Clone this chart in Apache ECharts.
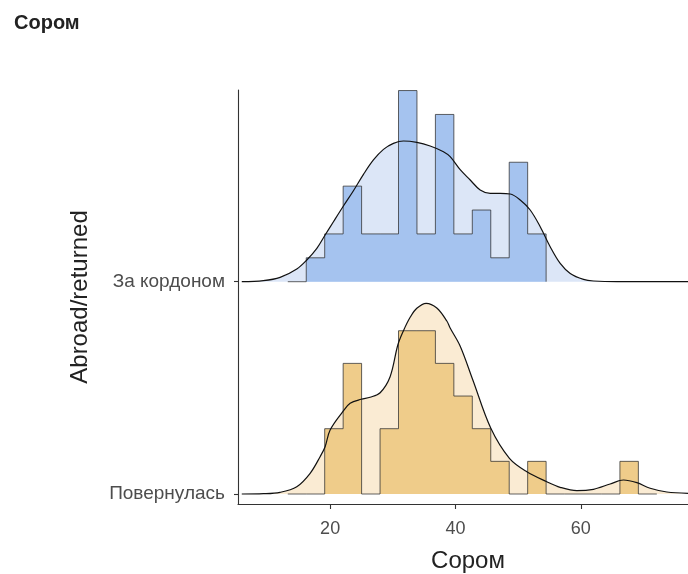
<!DOCTYPE html>
<html>
<head>
<meta charset="utf-8">
<script src="https://cdn.jsdelivr.net/npm/echarts@6/dist/echarts.min.js"></script>
<style>
  html, body { margin: 0; padding: 0; background: #fff; }
  #chart { width: 688px; height: 574px; }
</style>
</head>
<body>
<div id="chart"></div>
<script>
// ---- data ----
const chartTitle = 'Сором';
const xAxisTitle = 'Сором';
const yAxisTitle = 'Abroad/returned';
const groupNames = ['Повернулась', 'За кордоном'];
const xTicks = [20, 40, 60];

// histogram bins (shared)
const binStart = 13.245;
const binWidth = 2.944;
const returnedCounts = [0, 0, 2, 4, 0, 2, 5, 5, 4, 3, 2, 1, 0, 1, 0, 0, 0, 0, 1, 0];
const abroadCounts = [0, 1, 2, 4, 2, 2, 8, 2, 7, 2, 3, 1, 5, 2];

// density curves (x, density)
const abroadDensX = [5.9, 9.35, 12.02, 14.68, 16.28, 17.88, 19.20, 20.53, 22.12, 23.72, 25.32, 26.91, 28.51, 30.10, 31.70, 33.84, 35.96, 38.08, 39.15, 40.75, 42.35, 43.94, 45.54, 47.13, 48.73, 50.33, 51.92, 53.52, 55.11, 56.71, 58.31, 60.43, 62.03, 65.76, 77.1];
const abroadDens = [0, 0.00035, 0.00149, 0.00440, 0.00752, 0.01155, 0.01619, 0.02080, 0.02625, 0.03155, 0.03721, 0.04220, 0.04587, 0.04795, 0.04879, 0.04830, 0.04705, 0.04508, 0.04334, 0.03883, 0.03526, 0.03180, 0.03062, 0.03062, 0.03041, 0.02833, 0.02486, 0.01907, 0.01214, 0.00635, 0.00288, 0.00080, 0.00024, 0, 0];

const returnedDensX = [5.9, 9.36, 12.02, 14.68, 16.81, 18.40, 19.20, 20.0, 22.02, 23.19, 24.95, 26.38, 27.98, 29.57, 30.80, 31.70, 32.77, 33.83, 35.32, 37.02, 38.62, 39.15, 40.74, 42.77, 45.64, 48.61, 51.39, 54.58, 56.70, 59.37, 62.01, 64.68, 66.80, 68.94, 71.06, 73.73, 77.1];
const returnedDens = [0, 0.0001, 0.00059, 0.00253, 0.00718, 0.01293, 0.0164, 0.02219, 0.02854, 0.03145, 0.03284, 0.03353, 0.03512, 0.04067, 0.05166, 0.05662, 0.06127, 0.06439, 0.06612, 0.06449, 0.05999, 0.05756, 0.05132, 0.03953, 0.02278, 0.01238, 0.00773, 0.00426, 0.00232, 0.00114, 0.00163, 0.00347, 0.00485, 0.00392, 0.00198, 0.00069, 0.00024];

// ---- layout / style ----
const ridgeOffset = 0.07361;   // vertical spacing between the two ridges (density units)
const yMin = -0.003467, yMax = 0.14008;
const bases = [0, ridgeOffset];
const barColors = ['#efcc8a', '#a5c3ef'];
const fillColors = ['#faebd3', '#dce6f7'];
const FONT = '"Liberation Sans", Arial, Helvetica, sans-serif';

function histPoints(counts, base) {
  const n = counts.reduce((a, b) => a + b, 0);
  const pts = [];
  counts.forEach((c, i) => {
    const h = base + c / (n * binWidth);
    const x0 = binStart + i * binWidth;
    pts.push([x0, h], [x0 + binWidth, h]);
  });
  pts.push([binStart + counts.length * binWidth, base]);
  return pts;
}
function densPoints(xs, ds, base) {
  return xs.map((x, i) => [x, base + ds[i]]);
}

const groupsData = [
  { hist: returnedCounts, dx: returnedDensX, dy: returnedDens },
  { hist: abroadCounts, dx: abroadDensX, dy: abroadDens }
];

const SMOOTH = 0.35;
const series = [];
groupsData.forEach((g, gi) => {
  const base = bases[gi];
  const dp = densPoints(g.dx, g.dy, base);
  series.push({
    type: 'line', data: dp, showSymbol: false, smooth: SMOOTH, silent: true,
    lineStyle: { width: 0, opacity: 0 },
    areaStyle: { color: fillColors[gi], opacity: 1, origin: base },
    z: 1
  });
  series.push({
    type: 'line', data: histPoints(g.hist, base), showSymbol: false, silent: true,
    lineStyle: { color: 'rgba(45,45,45,0.75)', width: 1 },
    areaStyle: { color: barColors[gi], opacity: 1, origin: base },
    z: 2
  });
  series.push({
    type: 'line', data: dp, showSymbol: false, smooth: SMOOTH, silent: true,
    lineStyle: { color: '#111', width: 1.2 },
    z: 3
  });
});

const chart = echarts.init(document.getElementById('chart'), null, { renderer: 'canvas' });
chart.setOption({
  animation: false,
  backgroundColor: '#fff',
  title: {
    text: chartTitle, left: 9, top: 8,
    textStyle: { fontFamily: FONT, fontWeight: 'bold', fontSize: 20, color: '#222' }
  },
  grid: { left: 238, right: 0, top: 90, bottom: 70, containLabel: false, outerBoundsMode: 'none' },
  xAxis: {
    type: 'value', min: 5.3, max: 77.1,
    name: xAxisTitle, nameLocation: 'middle', nameGap: 45,
    nameTextStyle: { fontFamily: FONT, fontSize: 24, color: '#222', padding: [0, 0, 0, 10] },
    axisLine: { show: true, onZero: false, lineStyle: { color: '#333', width: 1.1 } },
    axisTick: { show: true, length: 5, customValues: xTicks, lineStyle: { color: '#333', width: 1.1 } },
    axisLabel: { customValues: xTicks, margin: 16, fontFamily: FONT, fontSize: 18, color: '#4d4d4d' },
    splitLine: { show: false }
  },
  yAxis: {
    type: 'value', min: yMin, max: yMax,
    name: yAxisTitle, nameLocation: 'middle', nameGap: 146,
    nameTextStyle: { fontFamily: FONT, fontSize: 24, color: '#222' },
    axisLine: { show: true, onZero: false, lineStyle: { color: '#333', width: 1.1 } },
    axisTick: { show: true, length: 4, customValues: bases, lineStyle: { color: '#333', width: 1.1 } },
    axisLabel: {
      customValues: bases, margin: 13, fontFamily: FONT, fontSize: 19, color: '#4d4d4d',
      formatter: (v) => (Math.abs(v - bases[0]) < 1e-9 ? groupNames[0] : groupNames[1])
    },
    splitLine: { show: false }
  },
  series: series
});
</script>
</body>
</html>
